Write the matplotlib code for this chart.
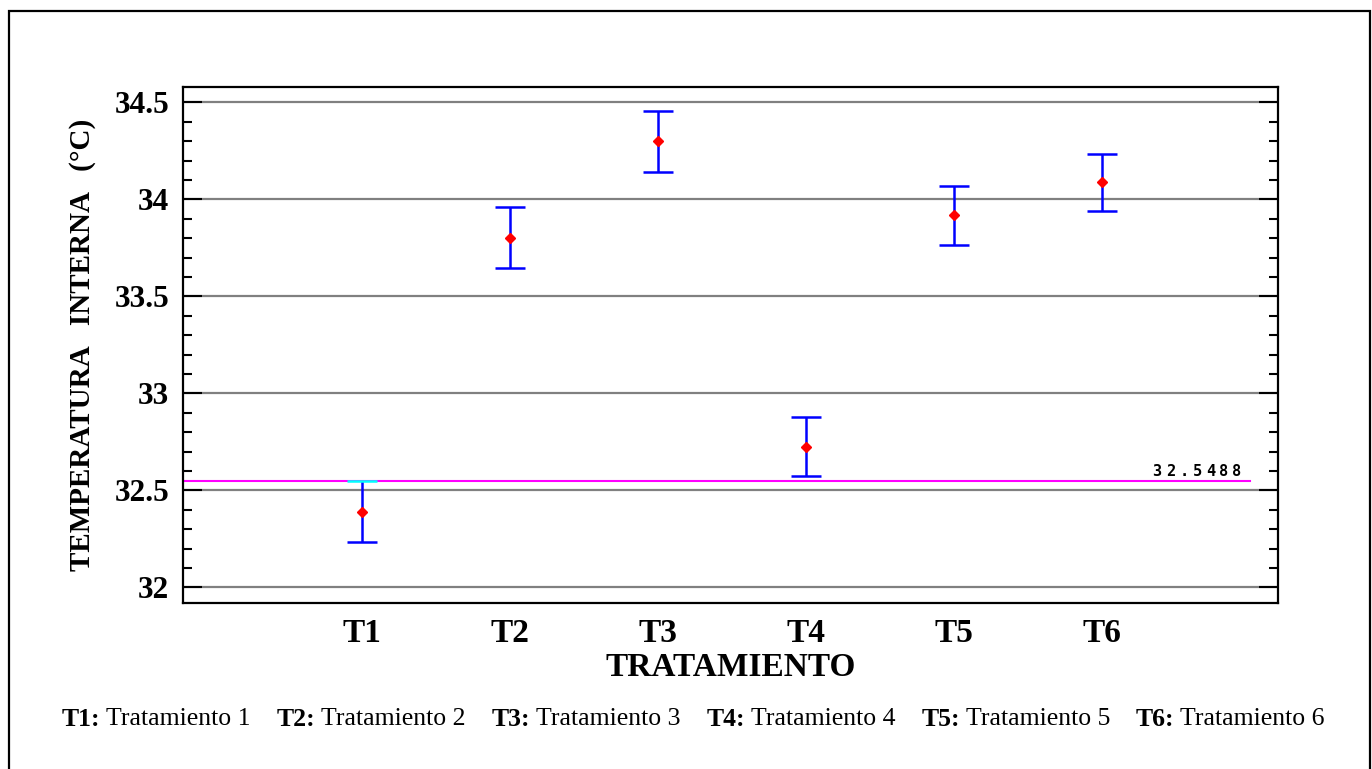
import numpy as np
import matplotlib
matplotlib.use('Agg')
import matplotlib.pyplot as plt
import matplotlib.patches as mpatches
from matplotlib.transforms import offset_copy
from matplotlib.ticker import MultipleLocator

# ── Data ─────────────────────────────────────────────────────────────────────
treatments = ['T1', 'T2', 'T3', 'T4', 'T5', 'T6']
means = [32.387, 33.799, 34.304, 32.722, 33.918, 34.088]
lower = [32.232, 33.649, 34.144, 32.572, 33.763, 33.943]
upper = [32.5488, 33.959, 34.454, 32.881, 34.072, 34.237]
ref_value = 32.5488
footer_names = ['Tratamiento 1', 'Tratamiento 2', 'Tratamiento 3',
                'Tratamiento 4', 'Tratamiento 5', 'Tratamiento 6']

SERIF = ['Liberation Serif', 'DejaVu Serif']
W, H = 1372, 769

fig = plt.figure(figsize=(W / 100, H / 100), dpi=100)
ax = fig.add_axes([0.1334, 0.2159, 0.7981, 0.6710])

x = np.arange(1, len(treatments) + 1)
cap_half = 0.10

ax.set_ylim(31.92, 34.58)
ax.set_xlim(-0.21, 7.19)
ax.yaxis.set_major_locator(MultipleLocator(0.5))
ax.yaxis.set_minor_locator(MultipleLocator(0.1))
ax.grid(True, axis='y', which='major', color='#808080', linewidth=1.6, zorder=0)

# reference line
ax.plot([ax.get_xlim()[0], len(treatments) + 1], [ref_value, ref_value],
        color='#ff00ff', linewidth=1.5, zorder=2)

# error bars (caps drawn by hand so the one sitting on the reference line can be cyan)
ax.vlines(x, lower, upper, color='#0000ff', linewidth=1.8, zorder=3)
ax.hlines(lower, x - cap_half, x + cap_half, color='#0000ff', linewidth=1.8, zorder=3)
cap_colors = ['#00ffff' if abs(u - ref_value) < 0.005 else '#0000ff' for u in upper]
ax.hlines(upper, x - cap_half, x + cap_half, colors=cap_colors, linewidth=1.8, zorder=4)
ax.plot(x, means, linestyle='none', marker='D', markersize=5.5,
        color='#ff0000', markeredgecolor='#ff0000', zorder=5)

# reference value label, wide-spaced like the original "digital" font
label = f'{ref_value:.4f}'
char_step = 13.3  # px
for i, ch in enumerate(label):
    dx = -(len(label) - 1 - i) * char_step - 13
    tr = offset_copy(ax.transData, fig=fig, x=dx * 0.72, y=2 * 0.72, units='points')
    ax.text(len(treatments) + 1, ref_value, ch, transform=tr, ha='center', va='bottom',
            fontfamily='DejaVu Sans Mono', fontweight='bold', fontsize=11,
            zorder=6, clip_on=False)

# axes styling
for s in ax.spines.values():
    s.set_linewidth(1.6)
ax.set_xticks(x)
ax.set_xticklabels(treatments, fontfamily=SERIF, fontweight='bold', fontsize=24)
ax.tick_params(axis='x', length=0, pad=11)
ax.tick_params(axis='y', which='both', direction='in', left=True, right=True, width=1.5)
ax.tick_params(axis='y', which='major', length=14, pad=10)
ax.tick_params(axis='y', which='minor', length=6.5)
ax.set_yticks([32, 32.5, 33, 33.5, 34, 34.5])
ax.set_yticklabels(['32', '32.5', '33', '33.5', '34', '34.5'],
                   fontfamily=SERIF, fontweight='bold', fontsize=22.5)

ax.set_xlabel('TRATAMIENTO', fontfamily=SERIF, fontweight='bold', fontsize=24, labelpad=2)
ax.set_ylabel('TEMPERATURA   INTERNA   (°C)', fontfamily=SERIF, fontweight='bold',
              fontsize=21, labelpad=13)

# footer legend: bold codes followed by plain names, spread from x=62 to x=1325 px
fig.canvas.draw()
renderer = fig.canvas.get_renderer()
x_start, x_end = 62, 1325
ypos = 1 - 719 / H
pieces = []
for code, name in zip(treatments, footer_names):
    t1 = fig.text(0, ypos, code + ':', fontfamily=SERIF, fontweight='bold',
                  fontsize=18.5, va='center', ha='left')
    t2 = fig.text(0, ypos, name, fontfamily=SERIF, fontsize=18.5, va='center', ha='left')
    pieces.append((t1, t2))
inner_gap = 6
widths = [(a.get_window_extent(renderer).width, b.get_window_extent(renderer).width)
          for a, b in pieces]
used = sum(wa + inner_gap + wb for wa, wb in widths)
outer_gap = (x_end - x_start - used) / (len(pieces) - 1)
xpos = x_start
for (t1, t2), (wa, wb) in zip(pieces, widths):
    t1.set_x(xpos / W)
    xpos += wa + inner_gap
    t2.set_x(xpos / W)
    xpos += wb + outer_gap

# outer frame
fig.add_artist(mpatches.Rectangle((9 / W, -0.02), (1370 - 9) / W, 1.02 - 11 / H,
                                  transform=fig.transFigure, fill=False,
                                  edgecolor='black', linewidth=1.6))

fig.savefig('out.png', dpi=100)
